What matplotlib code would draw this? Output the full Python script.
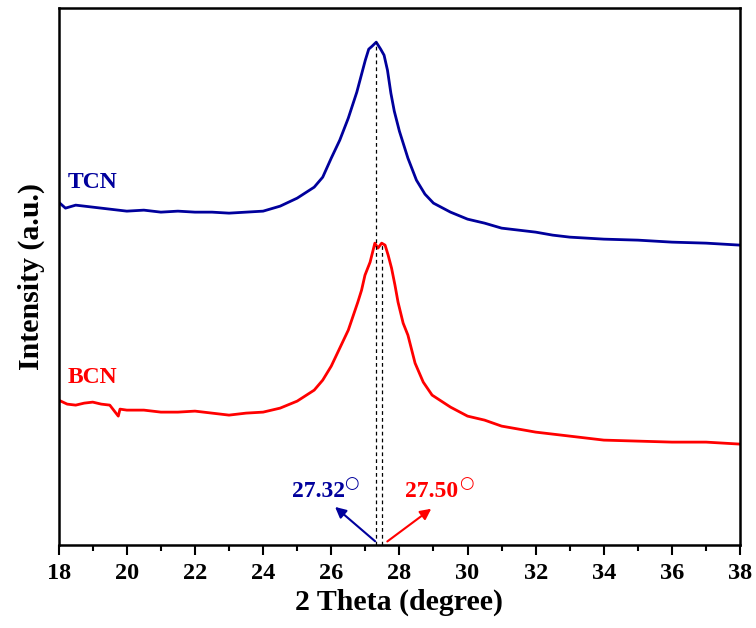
import numpy as np
import matplotlib
matplotlib.use("Agg")
import matplotlib.pyplot as plt

#### DATA (intensity in arbitrary units) ####
tcn_x = [18.0, 18.2, 18.5, 19.0, 19.5, 20.0, 20.5, 21.0, 21.5, 22.0, 22.5, 23.0,
         23.5, 24.0, 24.5, 25.0, 25.5, 25.75, 26.0, 26.25, 26.5, 26.75, 27.0,
         27.1, 27.2, 27.32, 27.45, 27.55, 27.65, 27.75, 27.85, 28.0, 28.25, 28.5,
         28.75, 29.0, 29.5, 30.0, 30.5, 31.0, 31.5, 32.0, 32.5, 33.0, 33.5, 34.0,
         35.0, 36.0, 37.0, 38.0]
tcn_y = [343, 337, 340, 338, 336, 334, 335, 333, 334, 333, 333, 332,
         333, 334, 339, 347, 358, 368, 387, 405, 427, 453, 485,
         496, 499, 503, 496, 490, 475, 452, 434, 414, 387, 365,
         351, 342, 333, 326, 322, 317, 315, 313, 310, 308, 307, 306,
         305, 303, 302, 300]

bcn_x = [18.0, 18.25, 18.5, 18.75, 19.0, 19.25, 19.5, 19.75, 19.8, 20.0, 20.5,
         21.0, 21.5, 22.0, 22.5, 23.0, 23.5, 24.0, 24.5, 25.0, 25.5, 25.75,
         26.0, 26.25, 26.5, 26.78, 26.89, 26.99, 27.14, 27.28, 27.37, 27.48,
         27.58, 27.67, 27.77, 27.87, 27.96, 28.11, 28.25, 28.46, 28.7, 28.96,
         29.5, 30.0, 30.5, 31.0, 31.5, 32.0, 32.5, 33.0, 33.5, 34.0, 35.0,
         36.0, 37.0, 38.0]
bcn_y = [145, 141, 140, 142, 143, 141, 140, 129, 136, 135, 135,
         133, 133, 134, 132, 130, 132, 133, 137, 144, 155, 165,
         179, 197, 215, 243, 255, 270, 283, 302, 297, 302,
         300, 290, 277, 260, 243, 222, 210, 182, 163, 150,
         138, 129, 125, 119, 116, 113, 111, 109, 107, 105, 104,
         103, 103, 101]

peaks = [27.32, 27.50]
peak_tops = [503, 302]
peak_labels = ['27.32', '27.50']

#### STYLE ####
blue = '#00009C'
red = '#FF0000'
plt.rcParams['font.family'] = ['Liberation Serif', 'DejaVu Serif']
plt.rcParams['font.weight'] = 'bold'

fig = plt.figure(figsize=(7.56, 6.28), dpi=100)
ax = fig.add_axes([0.0776, 0.132, 0.9014, 0.855])

ax.plot(tcn_x, tcn_y, color=blue, lw=2.0)
ax.plot(bcn_x, bcn_y, color=red, lw=2.0)

# dashed guide lines at peak positions
for p, top in zip(peaks, peak_tops):
    ax.plot([p, p], [0, top], color='black', lw=0.9, ls=(0, (3, 2.5)))

ax.text(18.27, 357, 'TCN', color=blue, fontsize=17, fontweight='bold')
ax.text(18.25, 162, 'BCN', color=red, fontsize=17, fontweight='bold')

# arrows and peak labels
ax.annotate('', xy=(26.05, 40), xytext=(27.35, 2),
            arrowprops=dict(arrowstyle='-|>', color=blue, lw=1.5, mutation_scale=16))
ax.annotate('', xy=(29.0, 38), xytext=(27.58, 2),
            arrowprops=dict(arrowstyle='-|>', color=red, lw=1.5, mutation_scale=16))
ax.text(24.85, 48, peak_labels[0], color=blue, fontsize=17, fontweight='bold')
ax.text(28.17, 48, peak_labels[1], color=red, fontsize=17, fontweight='bold')
# degree rings
ax.text(26.58, 62, '\u25cb', color=blue, fontsize=12, fontweight='normal',
        family='DejaVu Sans', ha='center', va='center')
ax.text(29.96, 62, '\u25cb', color=red, fontsize=12, fontweight='normal',
        family='DejaVu Sans', ha='center', va='center')

ax.set_xlim(18, 38)
ax.set_ylim(0, 537)
ax.set_xticks(np.arange(18, 39, 2))
ax.set_xticks(np.arange(19, 38, 2), minor=True)
ax.set_yticks([])
ax.tick_params(axis='x', which='major', direction='out', length=7, width=1.5,
               labelsize=17.5, pad=6)
ax.tick_params(axis='x', which='minor', direction='out', length=4, width=1.5)
for lab in ax.get_xticklabels():
    lab.set_fontweight('bold')
for s in ax.spines.values():
    s.set_linewidth(1.8)

ax.set_xlabel('2 Theta (degree)', fontsize=21.5, fontweight='bold', labelpad=3)
ax.set_ylabel('Intensity (a.u.)', fontsize=21.5, fontweight='bold', labelpad=10)

fig.savefig('out.png', dpi=100)
